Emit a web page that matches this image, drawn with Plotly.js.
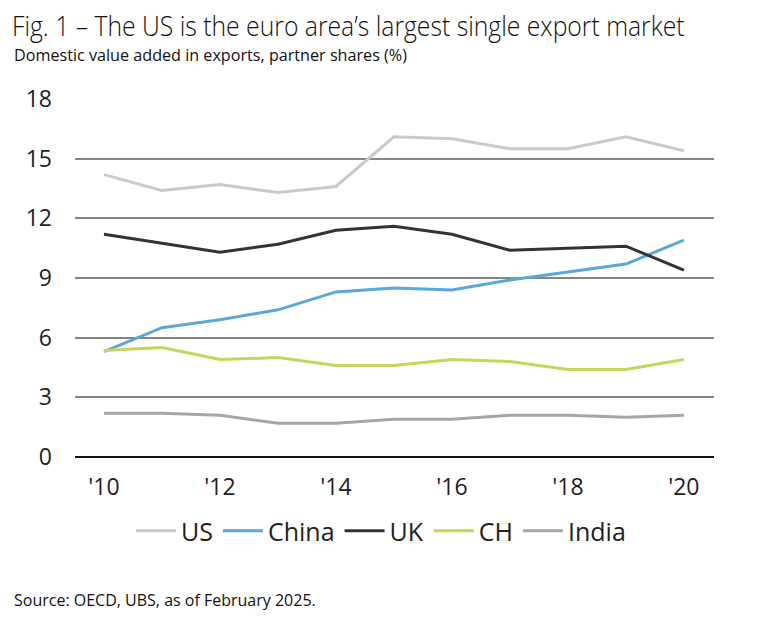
<!DOCTYPE html>
<html>
<head>
<meta charset="utf-8">
<script src="https://cdn.plot.ly/plotly-3.0.1.min.js"></script>
<style>html,body{margin:0;padding:0;background:#fff;}#chart{width:758px;height:618px;}</style>
</head>
<body>
<div id="chart"></div>
<script>
var years = [2010, 2011, 2012, 2013, 2014, 2015, 2016, 2017, 2018, 2019, 2020];
var us    = [14.2, 13.4, 13.7, 13.3, 13.6, 16.1, 16.0, 15.5, 15.5, 16.1, 15.4];
var china = [5.3, 6.5, 6.9, 7.4, 8.3, 8.5, 8.4, 8.9, 9.3, 9.7, 10.9];
var uk    = [11.2, 10.75, 10.3, 10.7, 11.4, 11.6, 11.2, 10.4, 10.5, 10.6, 9.4];
var ch    = [5.35, 5.5, 4.9, 5.0, 4.6, 4.6, 4.9, 4.8, 4.4, 4.4, 4.9];
var india = [2.2, 2.2, 2.1, 1.7, 1.7, 1.9, 1.9, 2.1, 2.1, 2.0, 2.1];
var tickVals = [2010, 2012, 2014, 2016, 2018, 2020];
var tickText = ["'10", "'12", "'14", "'16", "'18", "'20"];
var yTicks = [0, 3, 6, 9, 12, 15, 18];

var bodyFont = "Open Sans, Noto Sans, sans-serif";

function tr(name, y, color) {
  return {x: years, y: y, name: name, type: 'scatter', mode: 'lines',
          line: {color: color, width: 3}, hoverinfo: 'skip'};
}
var data = [
  tr('US', us, '#cacaca'),
  tr('China', china, '#5aa8d8'),
  tr('UK', uk, '#333333'),
  tr('CH', ch, '#c6d65a'),
  tr('India', india, '#a6a6a6')
];

var layout = {
  width: 758, height: 618,
  margin: {l: 75, r: 44, t: 99, b: 161},
  paper_bgcolor: '#fff', plot_bgcolor: '#fff',
  font: {family: bodyFont, color: '#222'},
  title: {text: 'Fig. 1 – The US is the euro area’s largest single export market',
          x: 12/758, xanchor: 'left', xref: 'container',
          y: 1 - 27/618, yanchor: 'middle', yref: 'container',
          font: {family: bodyFont, size: 27, weight: 300, color: '#111'}},
  xaxis: {range: [2009.5, 2020.52], tickvals: tickVals, ticktext: tickText,
          showgrid: false, zeroline: false, showline: false, ticks: '',
          ticklabelstandoff: 14, tickfont: {size: 23, color: '#222'}, fixedrange: true},
  yaxis: {range: [0, 18], tickvals: yTicks, showgrid: true, gridcolor: '#858585', gridwidth: 2,
          zeroline: true, zerolinecolor: '#111', zerolinewidth: 2.5, showline: false, ticks: '',
          ticklabelstandoff: 22, tickfont: {size: 23, color: '#222'}, fixedrange: true},
  showlegend: true,
  legend: {orientation: 'h', x: (381 - 75) / 639, xanchor: 'center', y: -(531 - 457) / 358, yanchor: 'middle',
           font: {size: 25, color: '#222'}, itemwidth: 40, tracegroupgap: 0, traceorder: 'normal'},
  annotations: [
    {text: 'Domestic value added in exports, partner shares (%)', xref: 'paper', yref: 'paper',
     x: -63/639, xanchor: 'left', y: 1 + (99-54)/358, yanchor: 'middle', showarrow: false,
     font: {family: bodyFont, size: 17, color: '#111'}},
    {text: 'Source: OECD, UBS, as of February 2025.', xref: 'paper', yref: 'paper',
     x: -63/639, xanchor: 'left', y: -(600-457)/358, yanchor: 'middle', showarrow: false,
     font: {family: bodyFont, size: 16, color: '#111'}}
  ]
};

function squeeze(el, targetW) {
  if (!el) return;
  var bb = el.getBBox();
  if (!bb.width) return;
  var sx = targetW / bb.width;
  var x0 = bb.x;
  var prev = el.getAttribute('transform') || '';
  el.setAttribute('transform', prev + ' translate(' + x0 + ',0) scale(' + sx + ',1) translate(' + (-x0) + ',0)');
}

Plotly.newPlot('chart', data, layout, {displayModeBar: false, staticPlot: true}).then(function (gd) {
  squeeze(gd.querySelector('.gtitle'), 673);
  var ann = gd.querySelectorAll('.annotation-text');
  squeeze(ann[0], 393);
});
</script>
</body>
</html>
